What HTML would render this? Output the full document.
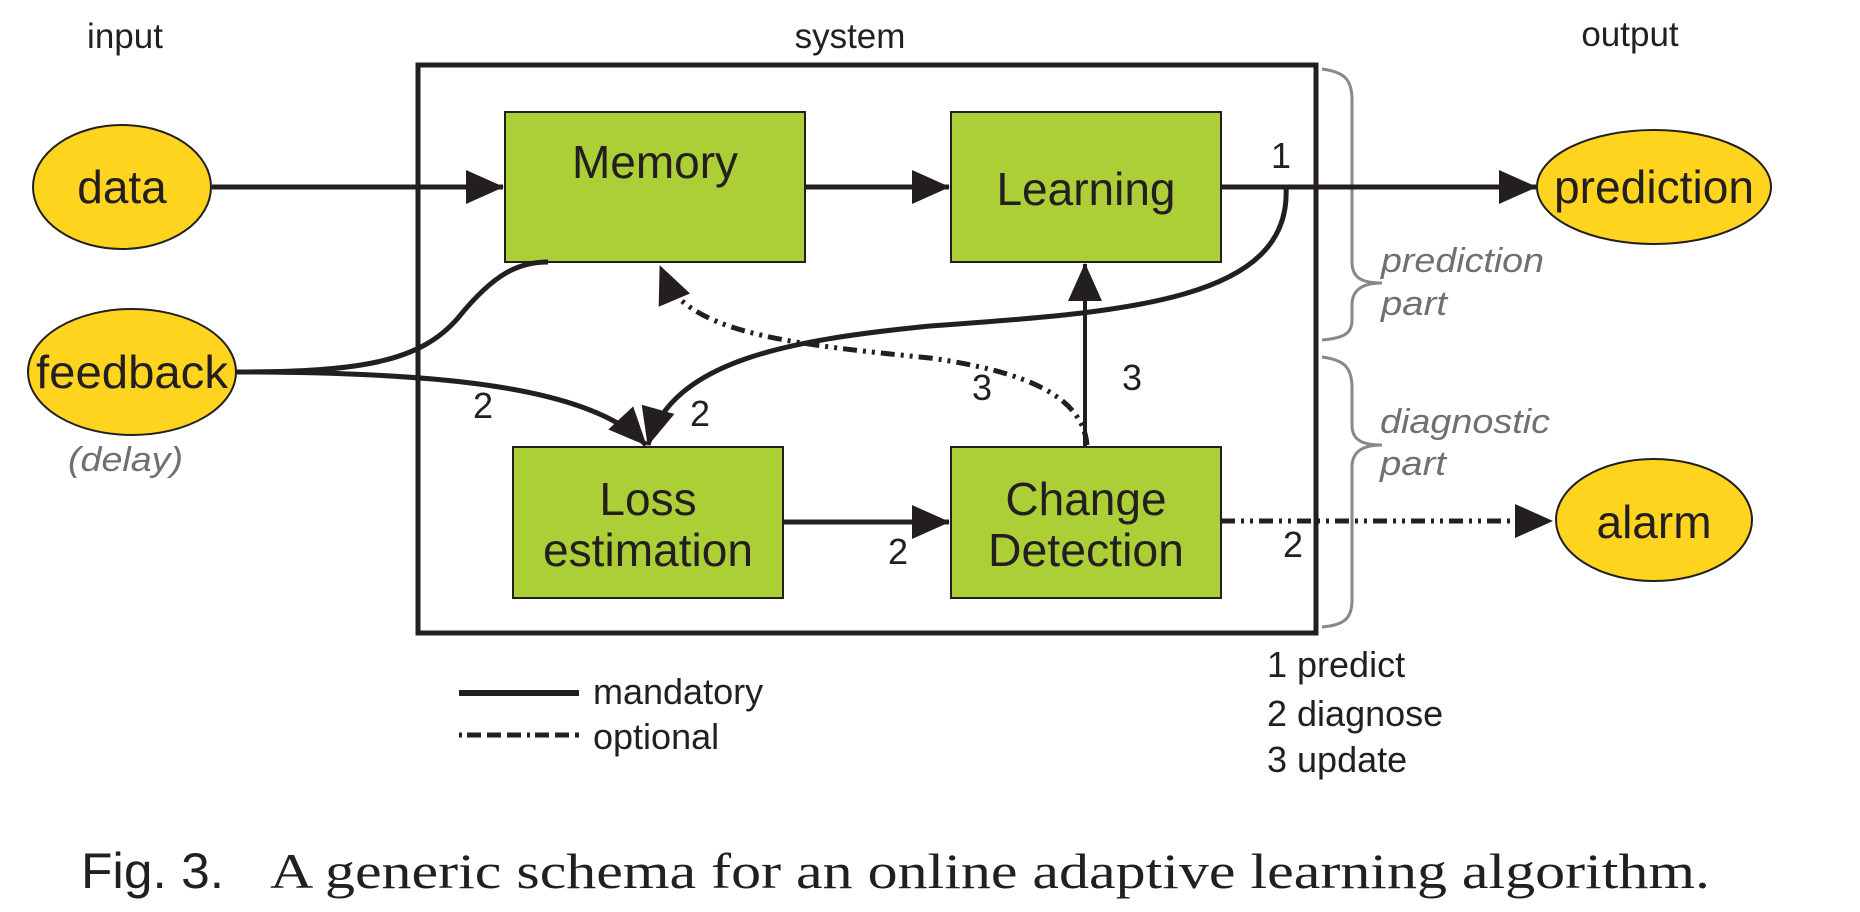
<!DOCTYPE html>
<html><head><meta charset="utf-8"><style>
html,body{margin:0;padding:0;background:#fff;width:1860px;height:912px;overflow:hidden}
svg{display:block}
text{font-family:"Liberation Sans",sans-serif}
</style></head><body>
<svg width="1860" height="912" viewBox="0 0 1860 912" xmlns="http://www.w3.org/2000/svg">
<defs>
<marker id="ah" markerWidth="8" markerHeight="8" refX="7" refY="4" orient="auto" markerUnits="userSpaceOnUse" viewBox="0 0 8 8" style="overflow:visible">
<path d="M-30,-13 L8,4 L-30,21 Z" fill="#231f20"/>
</marker>
</defs>
<g fill="#231f20">
<text x="125" y="48" text-anchor="middle" font-size="35">input</text>
<text x="850" y="48" text-anchor="middle" font-size="35">system</text>
<text x="1630" y="46" text-anchor="middle" font-size="35">output</text>
</g>
<rect x="418" y="65" width="898" height="568" fill="none" stroke="#231f20" stroke-width="5"/>
<g fill="none" stroke="#888" stroke-width="3">
<path d="M1322,69 C1345,72 1352,80 1352,100 L1352,262 C1352,278 1362,283 1382,283 C1362,283 1352,290 1352,305 L1352,320 C1352,333 1345,338 1322,340"/>
<path d="M1322,357 C1345,360 1352,368 1352,388 L1352,425 C1352,440 1362,445 1382,445 C1362,445 1352,452 1352,467 L1352,600 C1352,618 1345,625 1322,627"/>
</g>
<g fill="#707070" font-style="italic" font-size="34">
<text x="1381" y="272" textLength="163" lengthAdjust="spacingAndGlyphs">prediction</text>
<text x="1381" y="315" textLength="66" lengthAdjust="spacingAndGlyphs">part</text>
<text x="1380" y="433" textLength="170" lengthAdjust="spacingAndGlyphs">diagnostic</text>
<text x="1380" y="475" textLength="66" lengthAdjust="spacingAndGlyphs">part</text>
<text x="68" y="471" textLength="115" lengthAdjust="spacingAndGlyphs">(delay)</text>
</g>
<g fill="#fed41f" stroke="#231f20" stroke-width="2">
<ellipse cx="122" cy="187" rx="89" ry="62"/>
<ellipse cx="132" cy="372" rx="104" ry="63"/>
<ellipse cx="1654" cy="187" rx="117" ry="57"/>
<ellipse cx="1654" cy="520" rx="98" ry="61"/>
</g>
<g fill="#acce36" stroke="#231f20" stroke-width="2">
<rect x="505" y="112" width="300" height="150"/>
<rect x="951" y="112" width="270" height="150"/>
<rect x="513" y="447" width="270" height="151"/>
<rect x="951" y="447" width="270" height="151"/>
</g>
<g fill="#231f20" font-size="46" text-anchor="middle">
<text x="122" y="203">data</text>
<text x="132" y="388" textLength="192" lengthAdjust="spacingAndGlyphs">feedback</text>
<text x="1654" y="203" textLength="200" lengthAdjust="spacingAndGlyphs">prediction</text>
<text x="1654" y="538">alarm</text>
<text x="655" y="178">Memory</text>
<text x="1086" y="205">Learning</text>
<text x="648" y="515">Loss</text>
<text x="648" y="566" textLength="210" lengthAdjust="spacingAndGlyphs">estimation</text>
<text x="1086" y="515">Change</text>
<text x="1086" y="566" textLength="196" lengthAdjust="spacingAndGlyphs">Detection</text>
</g>
<g fill="none" stroke="#231f20" stroke-width="5">
<path d="M212,187 L503,187" marker-end="url(#ah)"/>
<path d="M805,187 L949,187" marker-end="url(#ah)"/>
<path d="M1221,187 L1536,187" marker-end="url(#ah)"/>
<path d="M783,522 L949,522" marker-end="url(#ah)"/>
<path d="M236,372 C360,372 420,362 458,318 C495,272 520,262 548,262"/>
<path d="M236,372 C430,372 590,385 646,445" marker-end="url(#ah)"/>
<path d="M1286,187 C1292,300 1130,312 930,326 C790,340 672,360 648,445" marker-end="url(#ah)"/>
<path d="M1085,447 L1085,264" stroke-width="4" marker-end="url(#ah)"/>
<path d="M1087,445 C1083,398 1030,372 930,358 C800,345 700,335 668,285 L660,266" stroke-dasharray="14 6 3 6 3 6" marker-end="url(#ah)"/>
<path d="M1221,521 L1552,521" stroke-dasharray="14 6 3 6 3 6" marker-end="url(#ah)"/>
<path d="M459,693 L579,693" stroke-width="6"/>
<path d="M459,735 L579,735" stroke-dasharray="3 5 14 6 14 6 14 6"/>
</g>
<g fill="#231f20" font-size="36" text-anchor="middle">
<text x="1281" y="168">1</text>
<text x="483" y="418">2</text>
<text x="700" y="426">2</text>
<text x="1132" y="390">3</text>
<text x="982" y="400">3</text>
<text x="898" y="564">2</text>
<text x="1293" y="557">2</text>
</g>
<g fill="#231f20" font-size="36">
<text x="593" y="704">mandatory</text>
<text x="593" y="749">optional</text>
<text x="1267" y="677">1 predict</text>
<text x="1267" y="726">2 diagnose</text>
<text x="1267" y="772">3 update</text>
</g>
<text x="81" y="888" font-size="50" fill="#231f20" textLength="143" lengthAdjust="spacingAndGlyphs">Fig. 3.</text>
<text x="270" y="888" font-size="50" fill="#231f20" style="font-family:'Liberation Serif',serif" textLength="1440" lengthAdjust="spacingAndGlyphs">A generic schema for an online adaptive learning algorithm.</text>
</svg>
</body></html>
